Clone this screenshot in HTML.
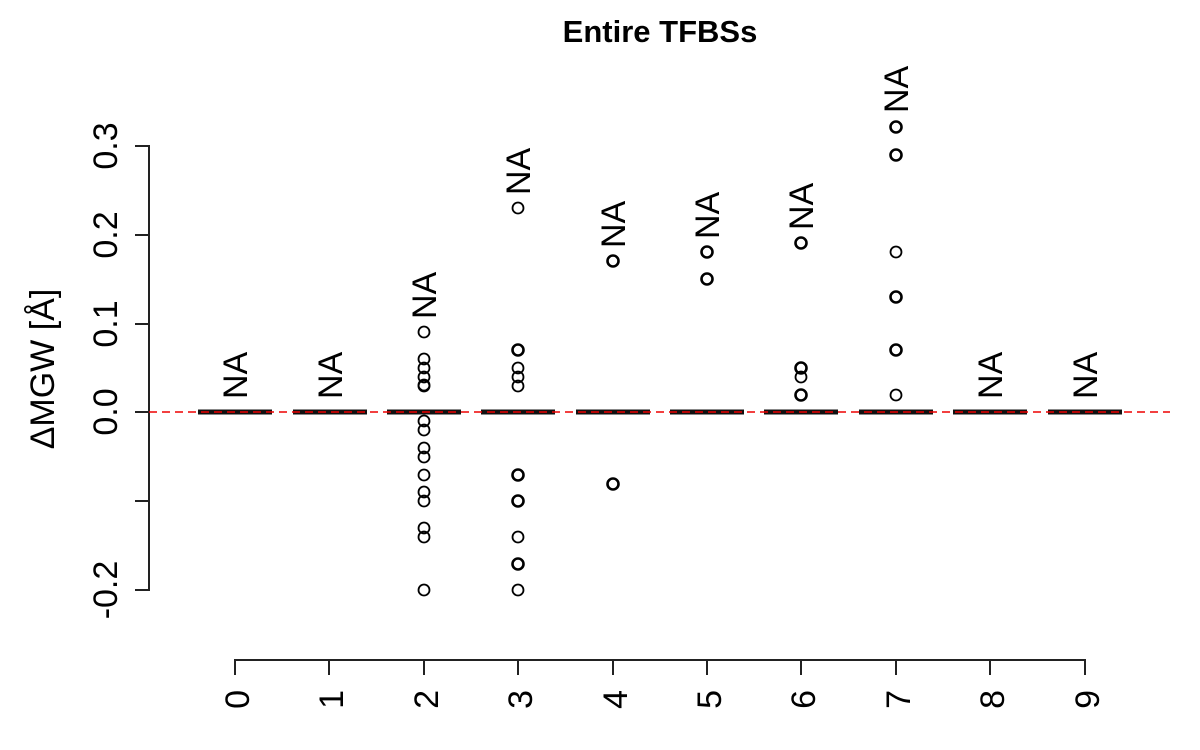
<!DOCTYPE html>
<html><head><style>body{margin:0;background:#fff}svg{display:block}</style></head><body>
<svg width="1200" height="750" xmlns="http://www.w3.org/2000/svg" font-family="Liberation Sans, sans-serif">
<rect width="1200" height="750" fill="#fff"/>
<text x="660" y="42" font-size="31" font-weight="bold" text-anchor="middle">Entire TFBSs</text>
<g stroke="#222" stroke-width="2" fill="none">
<path d="M135 146H149V590H135M135 235H149M135 324H149M135 412H149M135 501H149"/>
<path d="M235 675V660H1085V675M329 660V675M424 660V675M518 660V675M613 660V675M707 660V675M801 660V675M896 660V675M990 660V675"/>
</g>
<g font-size="34">
<text transform="translate(117,146) rotate(-90)" text-anchor="middle">0.3</text>
<text transform="translate(117,235) rotate(-90)" text-anchor="middle">0.2</text>
<text transform="translate(117,324) rotate(-90)" text-anchor="middle">0.1</text>
<text transform="translate(117,412) rotate(-90)" text-anchor="middle">0.0</text>
<text transform="translate(117,590) rotate(-90)" text-anchor="middle">-0.2</text>
<text transform="translate(54,369) rotate(-90)" text-anchor="middle">ΔMGW [Å]</text>
<g text-anchor="end">
<text transform="translate(249,690) rotate(-90)">0</text>
<text transform="translate(343,690) rotate(-90)">1</text>
<text transform="translate(438,690) rotate(-90)">2</text>
<text transform="translate(532,690) rotate(-90)">3</text>
<text transform="translate(627,690) rotate(-90)">4</text>
<text transform="translate(721,690) rotate(-90)">5</text>
<text transform="translate(815,690) rotate(-90)">6</text>
<text transform="translate(910,690) rotate(-90)">7</text>
<text transform="translate(1004,690) rotate(-90)">8</text>
<text transform="translate(1099,690) rotate(-90)">9</text>
</g>
<g>
<text transform="translate(247,399) rotate(-90)">NA</text>
<text transform="translate(342,399) rotate(-90)">NA</text>
<text transform="translate(436,319) rotate(-90)">NA</text>
<text transform="translate(530,195) rotate(-90)">NA</text>
<text transform="translate(625,248) rotate(-90)">NA</text>
<text transform="translate(719,239) rotate(-90)">NA</text>
<text transform="translate(813,230) rotate(-90)">NA</text>
<text transform="translate(908,113) rotate(-90)">NA</text>
<text transform="translate(1002,399) rotate(-90)">NA</text>
<text transform="translate(1097,399) rotate(-90)">NA</text>
</g>
</g>
<g stroke="#111" stroke-width="5">
<path d="M198 412H272M293 412H367M387 412H461M481 412H555M576 412H650M670 412H744M764 412H838M859 412H933M953 412H1027M1048 412H1122"/>
</g>
<line x1="149" y1="412" x2="1170" y2="412" stroke="#e00" stroke-width="1.5" stroke-dasharray="8,5"/>
<g fill="none" stroke="#000" stroke-width="1.8">
<circle cx="424" cy="332" r="5.5"/><circle cx="424" cy="359" r="5.5"/><circle cx="424" cy="368" r="5.5"/><circle cx="424" cy="377" r="5.5"/><circle cx="424" cy="385" r="5.5"/><circle cx="424" cy="386" r="5.5"/>
<circle cx="424" cy="421" r="5.5"/><circle cx="424" cy="430" r="5.5"/><circle cx="424" cy="448" r="5.5"/><circle cx="424" cy="457" r="5.5"/><circle cx="424" cy="475" r="5.5"/><circle cx="424" cy="492" r="5.5"/><circle cx="424" cy="501" r="5.5"/><circle cx="424" cy="528" r="5.5"/><circle cx="424" cy="537" r="5.5"/><circle cx="424" cy="590" r="5.5"/>
<circle cx="518" cy="208" r="5.5"/><circle cx="518" cy="350" r="5.5" stroke-width="2.6"/><circle cx="518" cy="368" r="5.5"/><circle cx="518" cy="377" r="5.5"/><circle cx="518" cy="386" r="5.5"/><circle cx="518" cy="475" r="5.5" stroke-width="2.6"/><circle cx="518" cy="501" r="5.5" stroke-width="2.6"/><circle cx="518" cy="537" r="5.5"/><circle cx="518" cy="564" r="5.5" stroke-width="2.6"/><circle cx="518" cy="590" r="5.5"/>
<circle cx="613" cy="261" r="5.5" stroke-width="2.6"/><circle cx="613" cy="484" r="5.5" stroke-width="2.6"/>
<circle cx="707" cy="252" r="5.5" stroke-width="2.6"/><circle cx="707" cy="279" r="5.5" stroke-width="2.6"/>
<circle cx="801" cy="243" r="5.5" stroke-width="2.6"/><circle cx="801" cy="368" r="5.5" stroke-width="2.6"/><circle cx="801" cy="377" r="5.5"/><circle cx="801" cy="395" r="5.5" stroke-width="2.6"/>
<circle cx="896" cy="127" r="5.5" stroke-width="2.6"/><circle cx="896" cy="155" r="5.5" stroke-width="2.6"/><circle cx="896" cy="252" r="5.5"/><circle cx="896" cy="297" r="5.5" stroke-width="2.6"/><circle cx="896" cy="350" r="5.5" stroke-width="2.6"/><circle cx="896" cy="395" r="5.5"/>
</g>
</svg>
</body></html>
